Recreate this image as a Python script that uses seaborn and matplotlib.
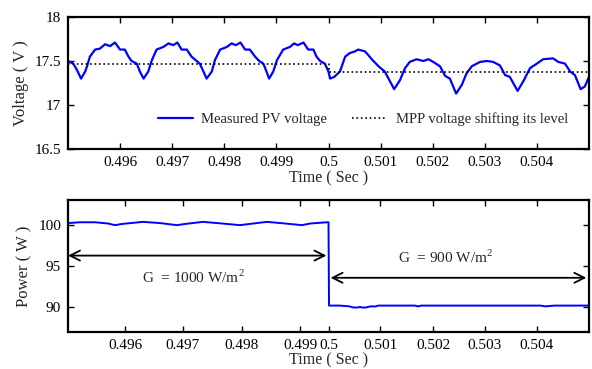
import matplotlib
matplotlib.use('Agg')

from matplotlib import pyplot as plt
import pandas as pd
import seaborn as sns


# measured PV voltage
volt_time = [
    0.49500, 0.49510, 0.49517, 0.49525, 0.49533, 0.49537, 0.49542, 0.49552,
    0.49561, 0.49571, 0.49581, 0.49590, 0.49600, 0.49609, 0.49616, 0.49622,
    0.49632, 0.49638, 0.49645, 0.49654, 0.49661, 0.49670, 0.49683, 0.49693,
    0.49702, 0.49710, 0.49718, 0.49728, 0.49737, 0.49747, 0.49753, 0.49760,
    0.49766, 0.49776, 0.49782, 0.49792, 0.49805, 0.49814, 0.49822, 0.49831,
    0.49840, 0.49849, 0.49859, 0.49867, 0.49875, 0.49881, 0.49886, 0.49894,
    0.49901, 0.49913, 0.49926, 0.49934, 0.49941, 0.49952, 0.49961, 0.49971,
    0.49977, 0.49984, 0.49993, 0.50000, 0.50003, 0.50011, 0.50022, 0.50032,
    0.50041, 0.50051, 0.50057, 0.50070, 0.50076, 0.50083, 0.50096, 0.50108,
    0.50118, 0.50126, 0.50137, 0.50147, 0.50156, 0.50169, 0.50182, 0.50192,
    0.50201, 0.50214, 0.50224, 0.50233, 0.50245, 0.50256, 0.50265, 0.50275,
    0.50291, 0.50304, 0.50316, 0.50329, 0.50339, 0.50348, 0.50363, 0.50374,
    0.50387, 0.50400, 0.50412, 0.50431, 0.50441, 0.50454, 0.50464, 0.50473,
    0.50484, 0.50492, 0.50500,
]
volt_meas = [
    17.50, 17.47, 17.40, 17.30, 17.38, 17.45, 17.55, 17.63,
    17.64, 17.69, 17.67, 17.71, 17.63, 17.63, 17.55, 17.50,
    17.47, 17.38, 17.30, 17.38, 17.51, 17.63, 17.66, 17.70,
    17.68, 17.71, 17.63, 17.63, 17.55, 17.50, 17.47, 17.38,
    17.30, 17.38, 17.51, 17.63, 17.66, 17.70, 17.68, 17.71,
    17.63, 17.63, 17.55, 17.50, 17.47, 17.38, 17.30, 17.38,
    17.51, 17.63, 17.66, 17.70, 17.68, 17.71, 17.63, 17.63,
    17.55, 17.50, 17.47, 17.38, 17.30, 17.32, 17.38, 17.55,
    17.59, 17.61, 17.63, 17.61, 17.57, 17.52, 17.44, 17.38,
    17.27, 17.18, 17.28, 17.42, 17.49, 17.52, 17.50, 17.52,
    17.49, 17.44, 17.33, 17.30, 17.13, 17.23, 17.36, 17.44,
    17.49, 17.50, 17.49, 17.45, 17.34, 17.32, 17.16, 17.27,
    17.42, 17.47, 17.52, 17.53, 17.49, 17.47, 17.38, 17.34,
    17.18, 17.21, 17.32,
]

# MPP voltage level
mpp_time = [0.49500, 0.50000, 0.50000, 0.50500]
mpp_volt = [17.47, 17.47, 17.37, 17.37]

# measured power
power_time = [
    0.49500, 0.49523, 0.49552, 0.49577, 0.49590, 0.49604, 0.49644, 0.49677,
    0.49709, 0.49725, 0.49759, 0.49796, 0.49830, 0.49849, 0.49882, 0.49917,
    0.49949, 0.49965, 0.49997, 0.50000, 0.50001, 0.50022, 0.50041, 0.50047,
    0.50057, 0.50060, 0.50064, 0.50072, 0.50080, 0.50091, 0.50095, 0.50166,
    0.50172, 0.50178, 0.50406, 0.50417, 0.50423, 0.50435, 0.50500,
]
power_meas = [
    100.20, 100.30, 100.30, 100.15, 99.95, 100.10, 100.35, 100.20,
    99.95, 100.10, 100.35, 100.15, 99.95, 100.10, 100.35, 100.15,
    99.95, 100.15, 100.30, 100.30, 90.20, 90.20, 90.10, 89.97,
    89.97, 90.05, 89.97, 89.97, 90.10, 90.10, 90.20, 90.20,
    90.10, 90.20, 90.20, 90.10, 90.15, 90.20, 90.20,
]

volt_ticks = [0.496, 0.497, 0.498, 0.499, 0.500, 0.501, 0.502, 0.503, 0.504]
time_labels = ['0.496', '0.497', '0.498', '0.499', '0.5',
               '0.501', '0.502', '0.503', '0.504']
# the lower panel's left ticks sit off the regular grid in the original
power_ticks = [0.49610, 0.49720, 0.49833, 0.49946, 0.50000,
               0.50099, 0.50201, 0.50300, 0.50400]


sns.set_style('ticks')
plt.rcParams['font.family'] = ['Liberation Serif', 'DejaVu Serif']
plt.rcParams['mathtext.fontset'] = 'custom'
plt.rcParams['mathtext.rm'] = 'Liberation Serif'
plt.rcParams['font.size'] = 11


def style_axes(ax):
    for side in ['left', 'right', 'top', 'bottom']:
        ax.spines[side].set_visible(True)
        ax.spines[side].set_linewidth(1.6)
        ax.spines[side].set_color('black')
    ax.tick_params(direction='in', length=4, width=1, top=True, right=True,
                   labelsize=11, colors='black', pad=5)
    ax.set_xlim(0.495, 0.505)


fig = plt.figure(figsize=(5.92, 3.69), dpi=100)
ax_v = fig.add_axes([0.1149, 0.5962, 0.880, 0.3577])
ax_p = fig.add_axes([0.1149, 0.1003, 0.880, 0.3577])

volt_df = pd.DataFrame({'time': volt_time, 'voltage': volt_meas})
mpp_df = pd.DataFrame({'time': mpp_time, 'voltage': mpp_volt})
power_df = pd.DataFrame({'time': power_time, 'power': power_meas})

# voltage panel
sns.lineplot(data=volt_df, x='time', y='voltage', ax=ax_v, color='#0000ff',
             lw=1.6, estimator=None, sort=False, label='Measured PV voltage')
sns.lineplot(data=mpp_df, x='time', y='voltage', ax=ax_v, color='black',
             lw=1.2, ls=':', estimator=None, sort=False,
             label='MPP voltage shifting its level')
style_axes(ax_v)
ax_v.set_ylim(16.5, 18)
ax_v.set_yticks([16.5, 17, 17.5, 18])
ax_v.set_yticklabels(['16.5', '17', '17.5', '18'])
ax_v.set_xticks(volt_ticks)
ax_v.set_xticklabels(time_labels)
ax_v.set_xlabel('Time ( Sec )', fontsize=11.5, labelpad=1)
ax_v.set_ylabel('Voltage ( V )', fontsize=12, labelpad=4)
ax_v.legend(ncol=2, frameon=False, loc='center', fontsize=10.5,
            bbox_to_anchor=(0.566, 0.227), handlelength=2.4,
            handletextpad=0.6, columnspacing=1.7)

# power panel
sns.lineplot(data=power_df, x='time', y='power', ax=ax_p, color='#0000ff',
             lw=1.4, estimator=None, sort=False, legend=False)
style_axes(ax_p)
ax_p.set_ylim(87, 103)
ax_p.set_yticks([90, 95, 100])
ax_p.set_xticks(power_ticks)
ax_p.set_xticklabels(time_labels)
ax_p.set_xlabel('Time ( Sec )', fontsize=11.5, labelpad=0)
ax_p.set_ylabel('Power ( W )', fontsize=12, labelpad=4)

arrow = dict(arrowstyle='<->', lw=1.3, color='black', mutation_scale=18,
             shrinkA=0, shrinkB=0)
ax_p.annotate('', xy=(0.49500, 96.26), xytext=(0.49996, 96.26),
              arrowprops=arrow)
ax_p.annotate('', xy=(0.50004, 93.57), xytext=(0.50495, 93.57),
              arrowprops=arrow)
ax_p.text(0.49740, 93.6, 'G  = 1000 W/m$^2$', ha='center', va='center',
          fontsize=11)
ax_p.text(0.50225, 96.1, 'G  = 900 W/m$^2$', ha='center', va='center',
          fontsize=11)

fig.savefig('out.png', dpi=100)
